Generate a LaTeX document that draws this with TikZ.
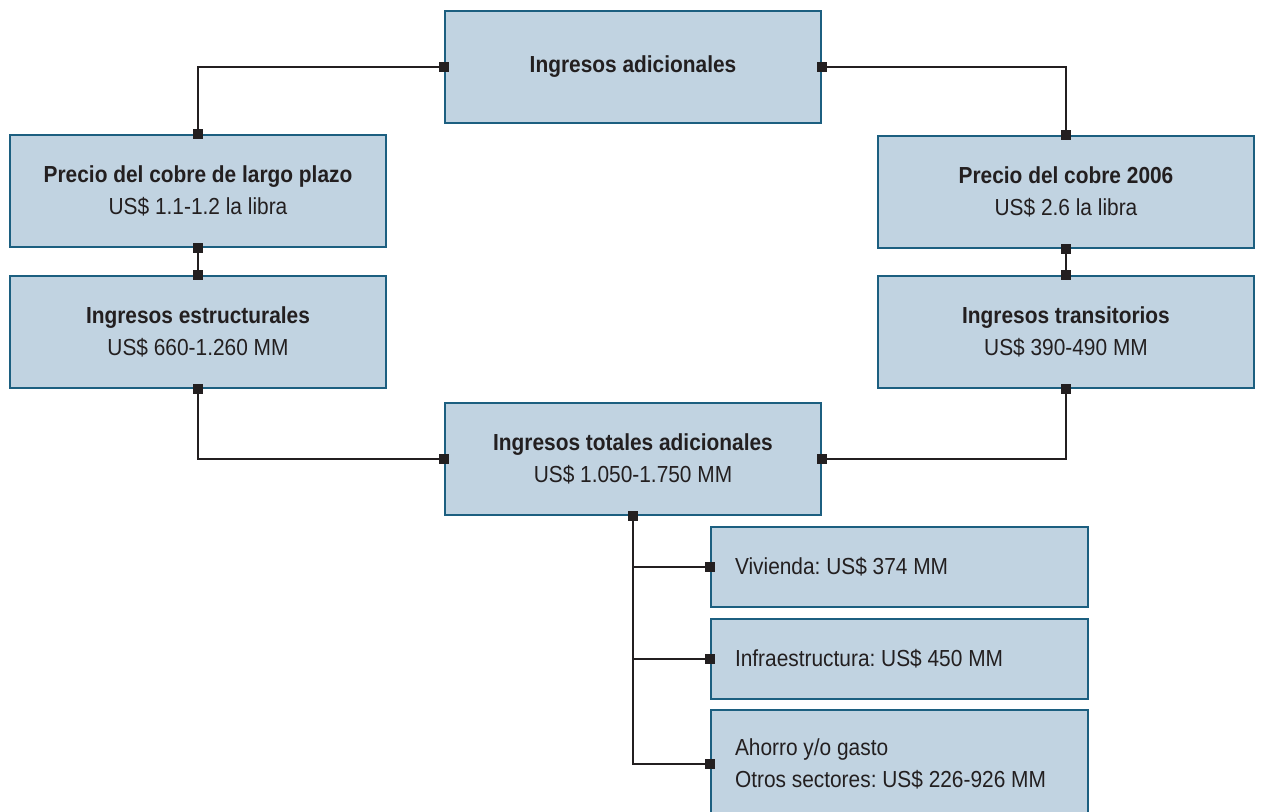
\documentclass[tikz,border=0pt]{standalone}
\usepackage{fontspec}
\setmainfont{Liberation Sans}[FakeStretch=0.9]
\usetikzlibrary{arrows.meta}
\definecolor{boxfill}{HTML}{C1D3E1}
\definecolor{boxline}{HTML}{1C5F80}
\definecolor{inkdark}{HTML}{231F20}
\frenchspacing
\begin{document}
\begin{tikzpicture}[x=0.5pt,y=-0.5pt,every node/.style={font=\fontsize{11.6}{16}\selectfont,text=inkdark},
box/.style={draw=boxline,fill=boxfill,line width=1pt,align=center,minimum width=188pt,minimum height=56pt,inner sep=0pt},
itembox/.style={draw=boxline,fill=boxfill,line width=1pt,align=flush left,text width=164.5pt,minimum height=40pt,inner xsep=12pt,inner ysep=0pt},
link/.style={draw=inkdark,line width=1pt,{Square[length=5pt,width=5pt]}-{Square[length=5pt,width=5pt]},shorten <=-2.5pt,shorten >=-2.5pt}]
\path[use as bounding box,clip] (0,0) rectangle (1263,811);
\node[box] (adic) at (633,67) {\textbf{Ingresos adicionales}};
\node[box] (plazo) at (198,191) {\textbf{Precio del cobre de largo plazo}\\US\$ 1.1-1.2 la libra};
\node[box] (cobre) at (1066,192) {\textbf{Precio del cobre 2006}\\US\$ 2.6 la libra};
\node[box] (estruct) at (198,332) {\textbf{Ingresos estructurales}\\US\$ 660-1.260 MM};
\node[box] (trans) at (1066,332) {\textbf{Ingresos transitorios}\\US\$ 390-490 MM};
\node[box] (total) at (633,459) {\textbf{Ingresos totales adicionales}\\US\$ 1.050-1.750 MM};
\node[itembox] (viv) at (899.5,567) {Vivienda: US\$ 374 MM};
\node[itembox] (infra) at (899.5,659) {Infraestructura: US\$ 450 MM};
\node[itembox,minimum height=54pt] (ahorro) at (899.5,764) {Ahorro y/o gasto\\Otros sectores: US\$ 226-926 MM};
% connectors
\draw[link] (adic.west) -| (plazo.north);\draw[link] (adic.east) -| (cobre.north);
\draw[link] (plazo.south) -- (estruct.north);\draw[link] (cobre.south) -- (trans.north);
\draw[link] (estruct.south) |- (total.west);\draw[link] (trans.south) |- (total.east);
\draw[link] (total.south) |- (viv.west);\draw[link] (total.south) |- (infra.west);\draw[link] (total.south) |- (ahorro.west);
\end{tikzpicture}
\end{document}
